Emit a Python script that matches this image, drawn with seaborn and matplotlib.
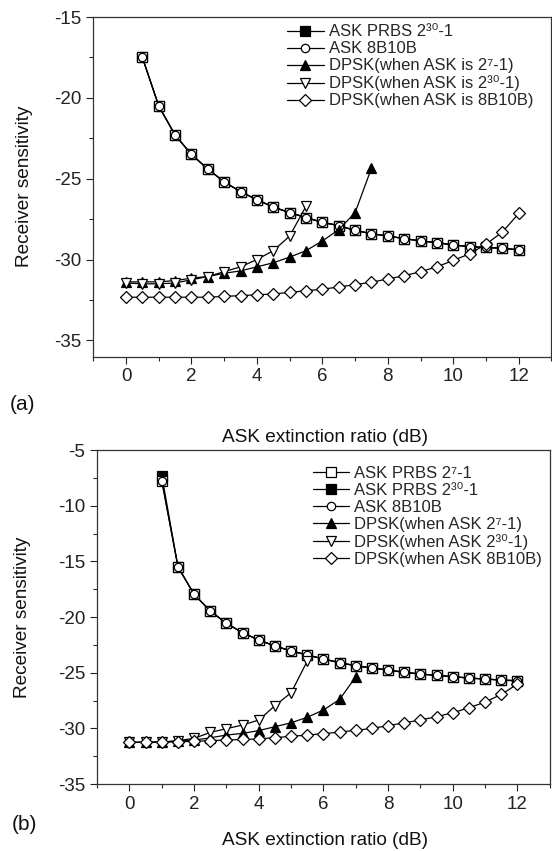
import numpy as np
import matplotlib
matplotlib.use('Agg')
import matplotlib.pyplot as plt
import seaborn as sns
from matplotlib.ticker import MultipleLocator

sns.set_style('ticks')
plt.rcParams['font.family'] = ['Liberation Sans', 'DejaVu Sans']
plt.rcParams['axes.unicode_minus'] = False

# extinction ratio grid (dB)
x_all = np.arange(0, 12.01, 0.5)

# (a) values
a_x_ask = x_all[1:]
a_ask7 = [-17.5, -20.5, -22.3, -23.5, -24.4, -25.2, -25.8, -26.3, -26.75, -27.1, -27.4, -27.7,
          -27.9, -28.2, -28.4, -28.55, -28.7, -28.85, -28.95, -29.1, -29.2, -29.25, -29.3, -29.4]
a_ask30 = [-17.5, -20.5, -22.3, -23.5, -24.4, -25.2, -25.8, -26.3, -26.75, -27.1, -27.4, -27.7,
           -27.9, -28.2, -28.4, -28.55, -28.7, -28.85, -28.95, -29.1, -29.2, -29.25, -29.3, -29.4]
a_ask8b = [-17.5, -20.5, -22.3, -23.5, -24.4, -25.2, -25.8, -26.3, -26.75, -27.1, -27.4, -27.7,
           -27.9, -28.2, -28.4, -28.55, -28.7, -28.85, -28.95, -29.1, -29.2, -29.25, -29.3, -29.4]
a_dpsk7 = [-31.38, -31.38, -31.38, -31.3, -31.15, -31.05, -30.85, -30.7, -30.45, -30.2, -29.85,
           -29.45, -28.85, -28.15, -27.1, -24.35]
a_dpsk30 = [-31.45, -31.5, -31.5, -31.45, -31.25, -31.05, -30.75, -30.45, -30.0, -29.45, -28.55, -26.7]
a_dpsk8b = [-32.33, -32.33, -32.33, -32.33, -32.33, -32.33, -32.28, -32.23, -32.18, -32.13, -32.03,
            -31.93, -31.83, -31.7, -31.55, -31.4, -31.2, -31.0, -30.75, -30.45, -30.05, -29.65,
            -29.05, -28.3, -27.15]

# (b) values
b_x_ask = x_all[2:]
b_ask7 = [-7.8, -15.5, -17.97, -19.46, -20.57, -21.41, -22.07, -22.6, -23.05, -23.41, -23.77, -24.1,
          -24.38, -24.58, -24.76, -24.97, -25.12, -25.24, -25.36, -25.48, -25.57, -25.66, -25.72]
b_ask30 = [-7.3, -15.5, -17.97, -19.46, -20.57, -21.41, -22.07, -22.6, -23.05, -23.41, -23.77, -24.1,
           -24.38, -24.58, -24.76, -24.97, -25.12, -25.24, -25.36, -25.48, -25.57, -25.66, -25.72]
b_ask8b = [-7.75, -15.5, -17.97, -19.46, -20.57, -21.41, -22.07, -22.6, -23.05, -23.41, -23.77, -24.1,
           -24.38, -24.58, -24.76, -24.97, -25.12, -25.24, -25.36, -25.48, -25.57, -25.66, -25.75]
b_dpsk7 = [-31.25, -31.25, -31.2, -31.15, -31.05, -30.85, -30.6, -30.45, -30.2, -29.85, -29.5,
           -29.0, -28.35, -27.4, -25.36]
b_dpsk30 = [-31.25, -31.25, -31.25, -31.1, -30.9, -30.36, -30.03, -29.7, -29.25, -27.96, -26.8, -23.95]
b_dpsk8b = [-31.26, -31.26, -31.26, -31.2, -31.17, -31.1, -31.05, -31.0, -30.95, -30.83, -30.72,
            -30.6, -30.48, -30.33, -30.18, -30.0, -29.76, -29.5, -29.25, -28.95, -28.6, -28.15,
            -27.64, -26.95, -26.02]

styles = {
    'ask7': dict(marker='s', markersize=6.5, markerfacecolor='white'),
    'ask30': dict(marker='s', markersize=6.5, markerfacecolor='black'),
    'ask8b': dict(marker='o', markersize=6, markerfacecolor='white'),
    'dpsk7': dict(marker='^', markersize=7.5, markerfacecolor='black'),
    'dpsk30': dict(marker='v', markersize=7.5, markerfacecolor='white'),
    'dpsk8b': dict(marker='D', markersize=6.5, markerfacecolor='white'),
}


def draw(ax, x, y, key, label):
    sns.lineplot(x=x, y=y, ax=ax, color='black', linewidth=0.9, markeredgecolor='black',
                 markeredgewidth=0.9, label=label, legend=False, **styles[key])


fig = plt.figure(figsize=(5.52, 8.51), dpi=100)
ax1 = fig.add_axes([0.169, 0.581, 0.830, 0.399])
ax2 = fig.add_axes([0.176, 0.0787, 0.820, 0.3925])

draw(ax1, a_x_ask, a_ask30, 'ask30', 'ASK PRBS 2³⁰-1')
draw(ax1, a_x_ask, a_ask7, 'ask7', '_nolegend_')
draw(ax1, a_x_ask, a_ask8b, 'ask8b', 'ASK 8B10B')
draw(ax1, x_all[:16], a_dpsk7, 'dpsk7', 'DPSK(when ASK is 2⁷-1)')
draw(ax1, x_all[:12], a_dpsk30, 'dpsk30', 'DPSK(when ASK is 2³⁰-1)')
draw(ax1, x_all, a_dpsk8b, 'dpsk8b', 'DPSK(when ASK is 8B10B)')

draw(ax2, b_x_ask, b_ask30, 'ask30', 'ASK PRBS 2³⁰-1')
draw(ax2, b_x_ask, b_ask7, 'ask7', 'ASK PRBS 2⁷-1')
draw(ax2, b_x_ask, b_ask8b, 'ask8b', 'ASK 8B10B')
draw(ax2, x_all[:15], b_dpsk7, 'dpsk7', 'DPSK(when ASK 2⁷-1)')
draw(ax2, x_all[:12], b_dpsk30, 'dpsk30', 'DPSK(when ASK 2³⁰-1)')
draw(ax2, x_all, b_dpsk8b, 'dpsk8b', 'DPSK(when ASK 8B10B)')

ax1.set_ylim(-36, -15)
ax1.yaxis.set_major_locator(MultipleLocator(5))
ax2.set_ylim(-35, -5)
ax2.yaxis.set_major_locator(MultipleLocator(5))

for ax in (ax1, ax2):
    ax.set_xlim(-1, 13)
    ax.xaxis.set_major_locator(MultipleLocator(2))
    ax.xaxis.set_minor_locator(MultipleLocator(1))
    ax.yaxis.set_minor_locator(MultipleLocator(2.5))
    ax.tick_params(which='major', direction='out', length=5, width=0.8, labelsize=13.5,
                   colors='#222222')
    ax.tick_params(which='minor', direction='out', length=3, width=0.8)
    for s in ax.spines.values():
        s.set_color('#333333')
        s.set_linewidth(0.9)
    ax.set_xlabel('ASK extinction ratio (dB)', fontsize=13.7, color='#111111')
    ax.set_ylabel('Receiver sensitivity', fontsize=13.7, color='#111111')
    ax.xaxis.label.set_va('center')
    ax.yaxis.label.set_va('center')

ax1.xaxis.set_label_coords(0.506, -0.239)
ax1.yaxis.set_label_coords(-0.151, 0.5)
ax2.xaxis.set_label_coords(0.503, -0.168)
ax2.yaxis.set_label_coords(-0.166, 0.5)

# legend order as in the figure
h1, l1 = ax1.get_legend_handles_labels()
ax1.legend(h1, l1, loc='upper left', bbox_to_anchor=(0.423, 0.978), frameon=False,
           fontsize=12, handlelength=2.2, handletextpad=0.3, labelspacing=0.12,
           borderaxespad=0, borderpad=0)
h2, l2 = ax2.get_legend_handles_labels()
order = [1, 0, 2, 3, 4, 5]
ax2.legend([h2[i] for i in order], [l2[i] for i in order], loc='upper left',
           bbox_to_anchor=(0.476, 0.952), frameon=False, fontsize=12, handlelength=2.2,
           handletextpad=0.3, labelspacing=0.12, borderaxespad=0, borderpad=0)

fig.text(0.040, 1 - 405 / 851, '(a)', fontsize=15, ha='center', va='center', color='#111111')
fig.text(0.045, 1 - 825 / 851, '(b)', fontsize=15, ha='center', va='center', color='#111111')

fig.savefig('out.png', dpi=100)
